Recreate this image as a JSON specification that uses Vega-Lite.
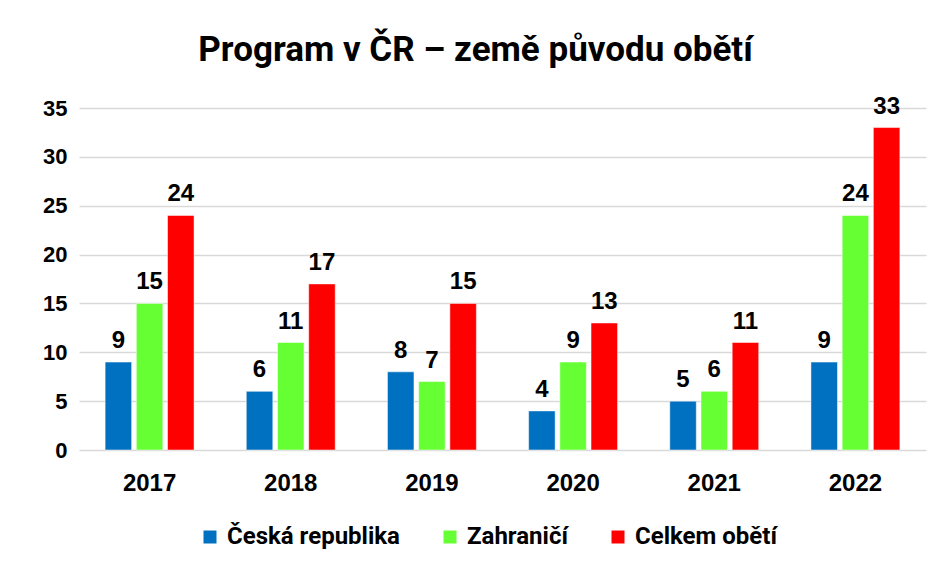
{
  "$schema": "https://vega.github.io/schema/vega-lite/v6.json",
  "autosize": {"type": "none"},
  "width": 847,
  "height": 342,
  "padding": {"left": 79, "top": 108, "right": 19, "bottom": 120},
  "background": "white",
  "title": {
    "text": "Program v ČR – země původu obětí",
    "font": "Roboto",
    "fontSize": 35,
    "fontWeight": "bold",
    "color": "#000000",
    "anchor": "middle",
    "frame": "group",
    "dx": -27,
    "offset": 27
  },
  "data": {
    "values": [
      {"rok": "2017", "serie": "Česká republika", "pocet": 9},
      {"rok": "2017", "serie": "Zahraničí", "pocet": 15},
      {"rok": "2017", "serie": "Celkem obětí", "pocet": 24},
      {"rok": "2018", "serie": "Česká republika", "pocet": 6},
      {"rok": "2018", "serie": "Zahraničí", "pocet": 11},
      {"rok": "2018", "serie": "Celkem obětí", "pocet": 17},
      {"rok": "2019", "serie": "Česká republika", "pocet": 8},
      {"rok": "2019", "serie": "Zahraničí", "pocet": 7},
      {"rok": "2019", "serie": "Celkem obětí", "pocet": 15},
      {"rok": "2020", "serie": "Česká republika", "pocet": 4},
      {"rok": "2020", "serie": "Zahraničí", "pocet": 9},
      {"rok": "2020", "serie": "Celkem obětí", "pocet": 13},
      {"rok": "2021", "serie": "Česká republika", "pocet": 5},
      {"rok": "2021", "serie": "Zahraničí", "pocet": 6},
      {"rok": "2021", "serie": "Celkem obětí", "pocet": 11},
      {"rok": "2022", "serie": "Česká republika", "pocet": 9},
      {"rok": "2022", "serie": "Zahraničí", "pocet": 24},
      {"rok": "2022", "serie": "Celkem obětí", "pocet": 33}
    ]
  },
  "encoding": {
    "x": {
      "field": "rok",
      "type": "nominal",
      "scale": {"paddingInner": 0.37, "paddingOuter": 0.185},
      "axis": {
        "title": null,
        "labelAngle": 0,
        "labelFont": "Liberation Sans",
        "labelFontSize": 24,
        "labelFontWeight": "bold",
        "labelColor": "#000000",
        "labelPadding": 21,
        "domain": false,
        "ticks": false
      }
    },
    "xOffset": {
      "field": "serie",
      "type": "nominal",
      "sort": ["Česká republika", "Zahraničí", "Celkem obětí"],
      "scale": {"paddingInner": 0.15}
    },
    "y": {
      "field": "pocet",
      "type": "quantitative",
      "scale": {"domain": [0, 35], "nice": false},
      "axis": {
        "title": null,
        "values": [0, 5, 10, 15, 20, 25, 30, 35],
        "labelFont": "Liberation Sans",
        "labelFontSize": 22,
        "labelFontWeight": "bold",
        "labelColor": "#000000",
        "labelPadding": 12,
        "domain": false,
        "ticks": false,
        "grid": true,
        "gridColor": "#d9d9d9",
        "gridWidth": 1.5
      }
    },
    "color": {
      "field": "serie",
      "type": "nominal",
      "sort": ["Česká republika", "Zahraničí", "Celkem obětí"],
      "scale": {
        "domain": ["Česká republika", "Zahraničí", "Celkem obětí"],
        "range": ["#0070C0", "#66FF33", "#FF0000"]
      },
      "legend": {
        "title": null,
        "orient": "none",
        "legendX": 119,
        "legendY": 417,
        "direction": "horizontal",
        "symbolType": "square",
        "symbolSize": 169,
        "symbolStrokeWidth": 0,
        "labelFont": "Roboto",
        "labelFontSize": 24,
        "labelFontWeight": "bold",
        "labelColor": "#000000",
        "labelOffset": 5,
        "columnPadding": 38,
        "labelLimit": 300
      }
    }
  },
  "layer": [
    {
      "mark": {"type": "bar", "stroke": "white", "strokeWidth": 0.5}
    },
    {
      "mark": {
        "type": "text",
        "baseline": "bottom",
        "dy": -9,
        "font": "Liberation Sans",
        "fontSize": 24,
        "fontWeight": "bold",
        "color": "#000000"
      },
      "encoding": {
        "text": {"field": "pocet", "type": "quantitative"},
        "color": {"value": "#000000"}
      }
    }
  ],
  "config": {
    "view": {"stroke": null}
  }
}
